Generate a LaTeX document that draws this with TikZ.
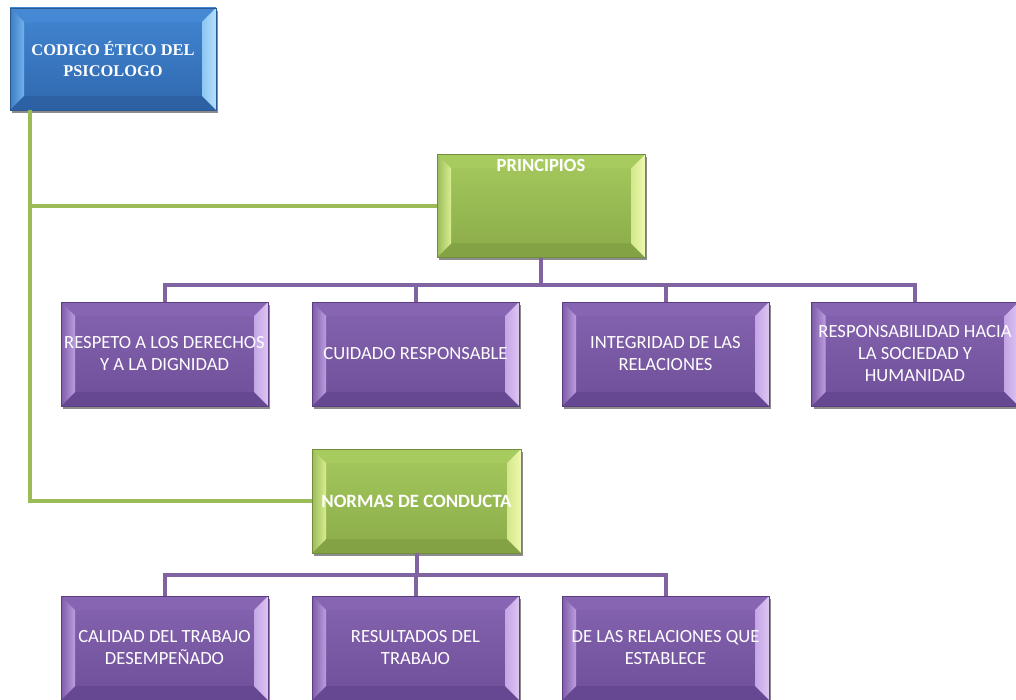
\documentclass[tikz,border=0pt]{standalone}
\usepackage{fontspec}
\setmainfont{Carlito}
\newfontfamily\titlefont{Liberation Serif}
\usetikzlibrary{shadows}

\definecolor{bTop}{HTML}{4386D3}\definecolor{bBot}{HTML}{2F68AE}
\definecolor{bLo}{HTML}{3C7CC6}\definecolor{bLi}{HTML}{72B2EC}
\definecolor{bRi}{HTML}{8CC6F2}\definecolor{bRo}{HTML}{B5E0FA}
\definecolor{bT}{HTML}{4588D4}\definecolor{bB}{HTML}{2C61A3}\definecolor{bD}{HTML}{2B5A92}
\definecolor{gTop}{HTML}{A6C95E}\definecolor{gBot}{HTML}{8AAB49}
\definecolor{gLo}{HTML}{9BBB59}\definecolor{gLi}{HTML}{D8EE90}
\definecolor{gRi}{HTML}{D2E88A}\definecolor{gRo}{HTML}{EEF8B0}
\definecolor{gT}{HTML}{A8CB60}\definecolor{gB}{HTML}{82A243}\definecolor{gD}{HTML}{718E3A}
\definecolor{pTop}{HTML}{8563B0}\definecolor{pBot}{HTML}{6F4F99}
\definecolor{pLo}{HTML}{7E5BA8}\definecolor{pLi}{HTML}{BC9EE0}
\definecolor{pRi}{HTML}{C4A6E6}\definecolor{pRo}{HTML}{DCC4F2}
\definecolor{pT}{HTML}{8765B2}\definecolor{pB}{HTML}{664792}\definecolor{pD}{HTML}{5B3F80}
\definecolor{gLine}{HTML}{9BBB59}
\definecolor{pLine}{HTML}{8064A2}

\tikzset{
  bevelbox/.style={
    rectangle, minimum width=207pt, minimum height=104pt, inner sep=0pt,
    draw=#1D, line width=0.6pt, top color=#1Top, bottom color=#1Bot,
    text=white, align=center, font=\fontsize{18.6}{22}\selectfont,
    drop shadow={shadow xshift=2pt, shadow yshift=-3pt, opacity=0.45, fill=black},
    path picture={
      \fill[#1T] (path picture bounding box.north west) -- (path picture bounding box.north east)
        -- ([xshift=-14pt,yshift=-14pt]path picture bounding box.north east)
        -- ([xshift=14pt,yshift=-14pt]path picture bounding box.north west) -- cycle;
      \fill[#1B] (path picture bounding box.south west) -- (path picture bounding box.south east)
        -- ([xshift=-14pt,yshift=14pt]path picture bounding box.south east)
        -- ([xshift=14pt,yshift=14pt]path picture bounding box.south west) -- cycle;
      \shade[left color=#1Lo, right color=#1Li] (path picture bounding box.north west)
        -- (path picture bounding box.south west)
        -- ([xshift=14pt,yshift=14pt]path picture bounding box.south west)
        -- ([xshift=14pt,yshift=-14pt]path picture bounding box.north west) -- cycle;
      \shade[left color=#1Ri, right color=#1Ro] (path picture bounding box.north east)
        -- (path picture bounding box.south east)
        -- ([xshift=-14pt,yshift=14pt]path picture bounding box.south east)
        -- ([xshift=-14pt,yshift=-14pt]path picture bounding box.north east) -- cycle;
    }},
  bluebox/.style={bevelbox=b},
  greenbox/.style={bevelbox=g},
  purplebox/.style={bevelbox=p},
  gline/.style={draw=gLine, line width=4pt},
  pline/.style={draw=pLine, line width=4pt},
  lbl/.style={text=white, inner sep=0pt, align=center},
}

\begin{document}
\begin{tikzpicture}[x=1pt,y=-1pt]
\useasboundingbox (0,0) rectangle (1016,700);
\clip (0,0) rectangle (1016,700);

% top
\node[bluebox, minimum width=206pt, minimum height=102pt,
      font=\titlefont\bfseries\fontsize{16.4}{21}\selectfont] (top) at (113,59)
      {CODIGO ÉTICO DEL\\PSICOLOGO};

% principios
\node[greenbox, minimum width=208pt, minimum height=103pt] (prin) at (541,206) {};
\node[lbl, font=\bfseries\fontsize{18.6}{22}\selectfont, anchor=north] (prinlbl)
      at ([yshift=-5pt]prin.north) {PRINCIPIOS};

% normas
\node[greenbox, minimum width=209pt, font=\bfseries\fontsize{18.8}{22}\selectfont] (norm) at (416.5,501) {NORMAS DE CONDUCTA};

% row 1
\node[purplebox] (r1) at (164.5,354) {RESPETO A LOS DERECHOS\\Y A LA DIGNIDAD};
\node[purplebox] (r2) at (415.5,354) {CUIDADO RESPONSABLE};
\node[purplebox] (r3) at (665.5,354) {INTEGRIDAD DE LAS\\RELACIONES};
\node[purplebox] (r4) at (915,354) {RESPONSABILIDAD HACIA\\LA SOCIEDAD Y\\HUMANIDAD};

% row 2
\node[purplebox] (s1) at (164.5,648) {CALIDAD DEL TRABAJO\\DESEMPEÑADO};
\node[purplebox] (s2) at (415.5,648) {RESULTADOS DEL\\TRABAJO};
\node[purplebox] (s3) at (665.5,648) {DE LAS RELACIONES QUE\\ESTABLECE};

% green connectors
\draw[gline] ([xshift=20pt]top.south west) |- (prin.west);
\draw[gline] ([xshift=20pt]top.south west) |- (norm.west);

% purple connectors row 1
\coordinate (bus1) at (541,285);
\draw[pline] (prin.south) -- (bus1);
\draw[pline] (r1.north) |- (bus1) -| (r4.north);
\draw[pline] (r2.north) -- (r2.north |- bus1);
\draw[pline] (r3.north) -- (r3.north |- bus1);

% purple connectors row 2
\coordinate (bus2) at (416.5,575);
\draw[pline] (norm.south) -- (bus2);
\draw[pline] (s1.north) |- (bus2) -| (s3.north);
\draw[pline] (s2.north) -- (s2.north |- bus2);
\end{tikzpicture}
\end{document}
